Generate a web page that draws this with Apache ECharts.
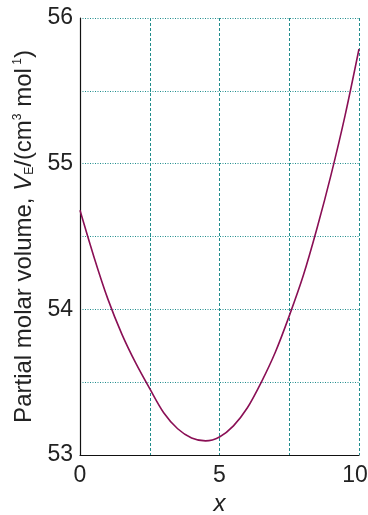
<!DOCTYPE html>
<html>
<head>
<meta charset="utf-8">
<script src="https://cdn.jsdelivr.net/npm/echarts@6/dist/echarts.min.js"></script>
<style>
html,body{margin:0;padding:0;background:#fff;}
#chart{width:368px;height:515px;}
</style>
</head>
<body>
<div id="chart"></div>
<script>
var xValues = [0, 0.5, 1, 1.5, 2, 2.5, 3, 3.5, 4, 4.5, 5, 5.5, 6, 6.5, 7, 7.5, 8, 8.5, 9, 9.5, 10];
var partialMolarVolume = [54.68, 54.36, 54.07, 53.83, 53.63, 53.455, 53.29, 53.18, 53.117, 53.097, 53.124, 53.20, 53.324, 53.50, 53.705, 53.955, 54.23, 54.56, 54.925, 55.33, 55.787];
var xTickLabels = [0, 5, 10];
var yTickLabels = [53, 54, 55, 56];

var gridColor = '#1f8c8c';
var chart = echarts.init(document.getElementById('chart'));
var seriesData = xValues.map(function (x, i) { return [x, partialMolarVolume[i]]; });
var font = '"Liberation Sans", Arial, sans-serif';

chart.setOption({
  animation: false,
  grid: { left: 80, right: 9, top: 18, bottom: 60, containLabel: false, outerBoundsMode: 'none' },
  xAxis: {
    type: 'value', min: 0, max: 10, interval: 2.5,
    name: 'x', nameLocation: 'middle', nameGap: 34,
    nameTextStyle: { fontFamily: font, fontSize: 24, fontStyle: 'italic', color: '#222' },
    axisLine: { show: true, lineStyle: { color: '#111', width: 1.2 } },
    axisTick: { show: false },
    axisLabel: {
      fontFamily: font, fontSize: 23, color: '#222', margin: 9,
      formatter: function (v) {
        if (xTickLabels.indexOf(v) < 0) return '';
        return v === 10 ? '{r|' + v + '}' : String(v);
      },
      rich: { r: { fontFamily: font, fontSize: 23, color: '#222', padding: [0, 8, 0, 0] } }
    },
    splitLine: { show: true, lineStyle: { color: gridColor, width: 1, type: [3, 2] } }
  },
  yAxis: {
    type: 'value', min: 53, max: 56, interval: 0.5,
    name: '{n|Partial molar volume, }{v|V}{s|E}{n|/(cm}{p|3}{n| mol}{p| 1}{n|)}',
    nameLocation: 'middle', nameGap: 44, nameRotate: 90,
    nameTextStyle: {
      fontFamily: font, fontSize: 24, color: '#222',
      rich: {
        n: { fontFamily: font, fontSize: 24, color: '#222' },
        v: { fontFamily: font, fontSize: 24, fontStyle: 'italic', color: '#222' },
        s: { fontFamily: font, fontSize: 12, color: '#222', verticalAlign: 'bottom', padding: [9, 0, 0, 0] },
        p: { fontFamily: font, fontSize: 12, color: '#222', verticalAlign: 'top', padding: [0, 0, 9, 0] }
      }
    },
    axisLine: { show: true, lineStyle: { color: '#111', width: 1.2 } },
    axisTick: { show: false },
    axisLabel: {
      fontFamily: font, fontSize: 23, color: '#222', margin: 7,
      formatter: function (v) { return yTickLabels.indexOf(v) >= 0 ? String(v) : ''; }
    },
    splitLine: { show: true, lineStyle: { color: gridColor, width: 1, type: [1, 1.5] } }
  },
  series: [{
    type: 'line', data: seriesData, smooth: 0.3, symbol: 'none',
    lineStyle: { color: '#8a0f55', width: 1.6 }
  }]
});
</script>
</body>
</html>
